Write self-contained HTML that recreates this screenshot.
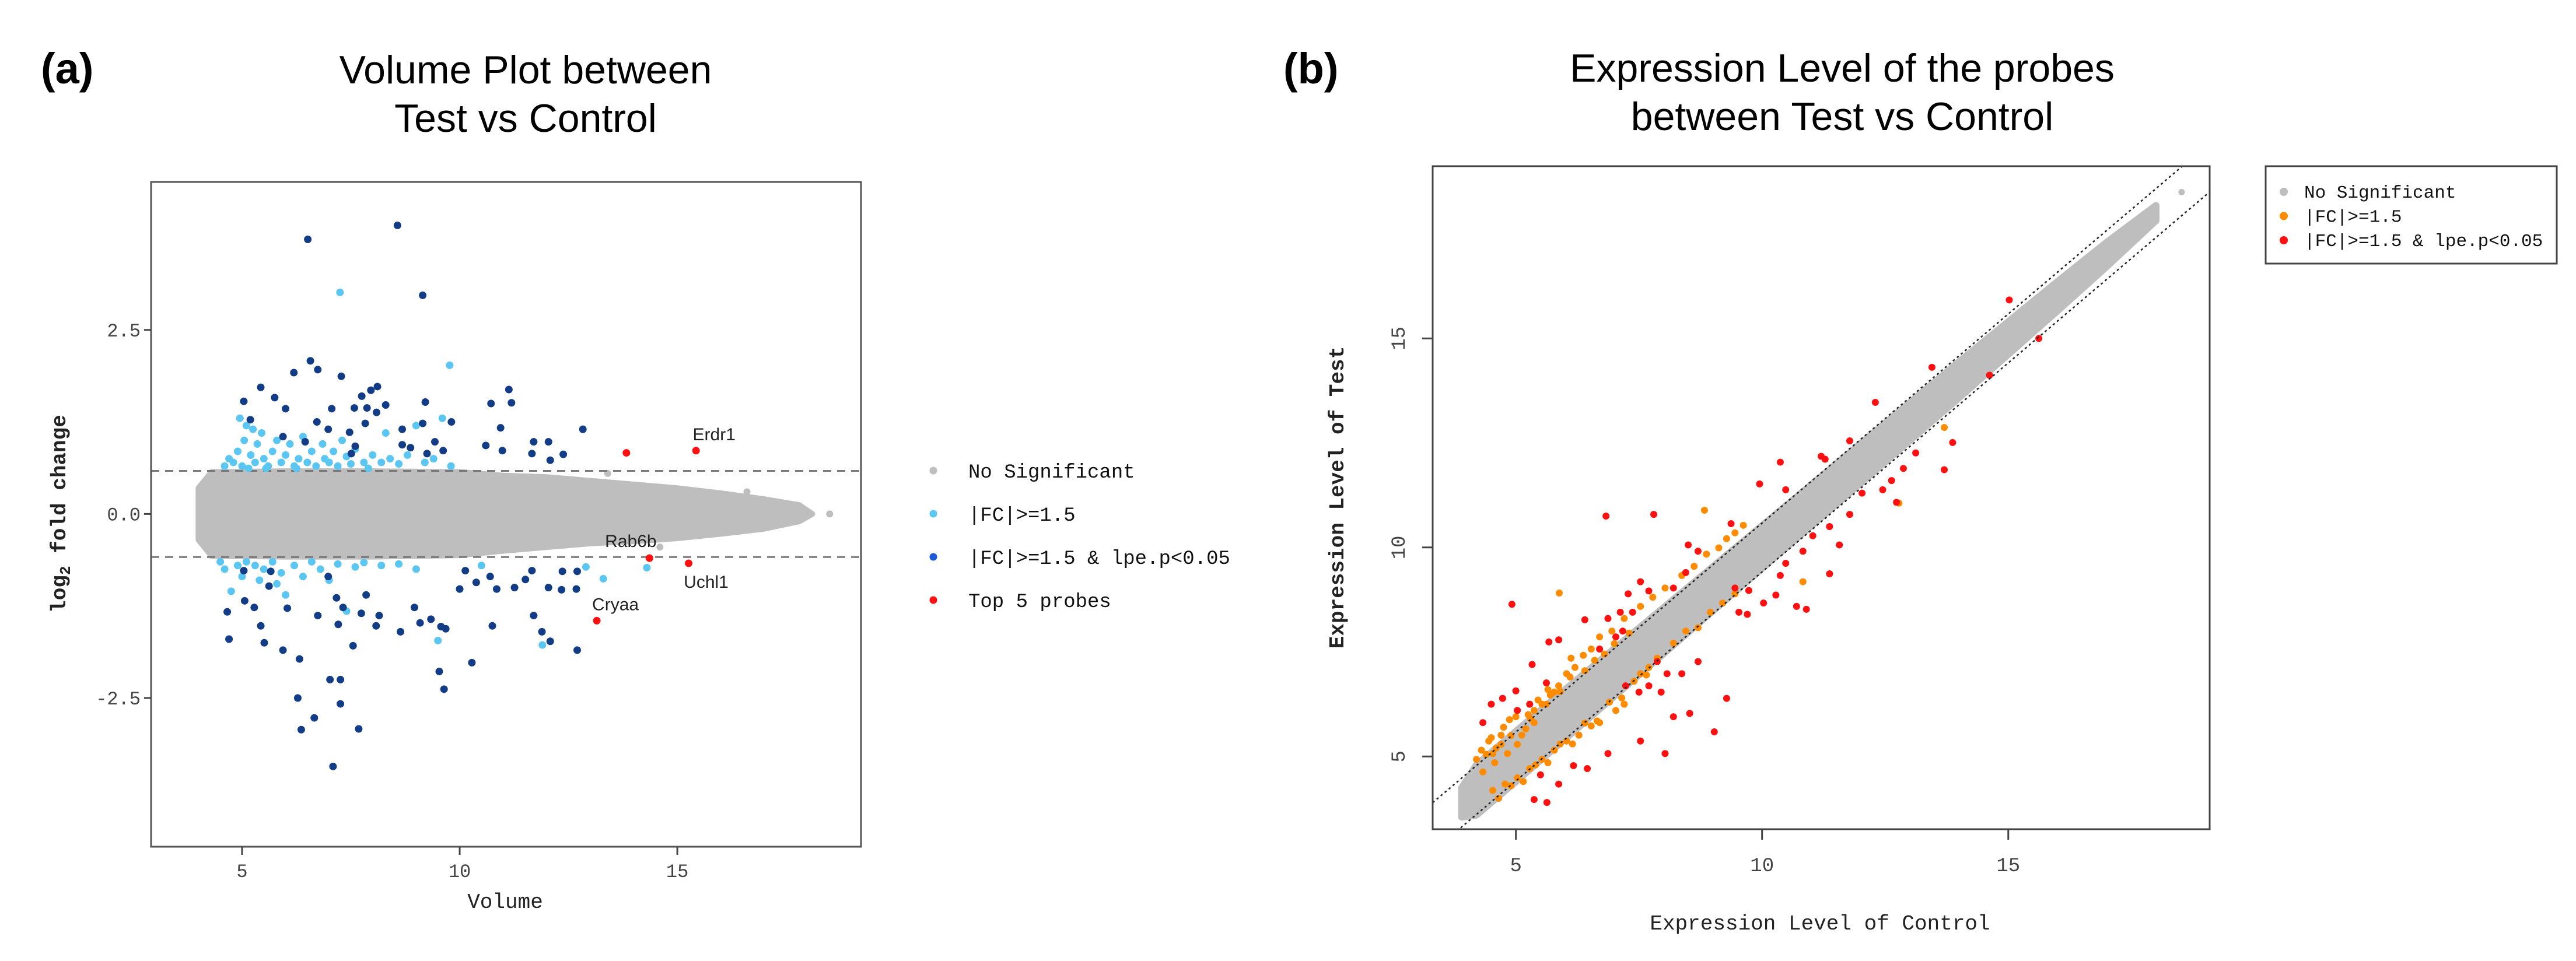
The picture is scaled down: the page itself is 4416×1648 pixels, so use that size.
<!DOCTYPE html>
<html><head><meta charset="utf-8"><style>
html,body{margin:0;padding:0;background:#fff;}
svg{display:block;}
</style></head><body>
<svg id="fig" xmlns="http://www.w3.org/2000/svg" width="4416" height="1648" viewBox="0 0 4416 1648">
<rect x="0" y="0" width="4416" height="1648" fill="#fff"/>
<!-- Panel a -->
<text x="70" y="143" font-family="Liberation Sans, sans-serif" font-size="74" font-weight="bold">(a)</text>
<text x="901" y="143" text-anchor="middle" font-family="Liberation Sans, sans-serif" font-size="68">Volume Plot between</text>
<text x="901" y="226" text-anchor="middle" font-family="Liberation Sans, sans-serif" font-size="68">Test vs Control</text>
<g id="plotA"></g>
<text x="866" y="1557" text-anchor="middle" font-family="Liberation Mono, monospace" font-size="36" fill="#222">Volume</text>
<text transform="translate(112,881) rotate(-90)" text-anchor="middle" font-family="Liberation Mono, monospace" font-size="36" font-weight="bold" fill="#222">log<tspan font-size="26" dy="8">2</tspan><tspan dy="-8"> fold change</tspan></text>
<g id="legendA"></g>
<!-- Panel b -->
<text x="2200" y="143" font-family="Liberation Sans, sans-serif" font-size="74" font-weight="bold">(b)</text>
<text x="3158" y="140" text-anchor="middle" font-family="Liberation Sans, sans-serif" font-size="68">Expression Level of the probes</text>
<text x="3158" y="223" text-anchor="middle" font-family="Liberation Sans, sans-serif" font-size="68">between Test vs Control</text>
<g id="plotB"></g>
<text x="3120" y="1594" text-anchor="middle" font-family="Liberation Mono, monospace" font-size="36" fill="#222">Expression Level of Control</text>
<text transform="translate(2303,853) rotate(-90)" text-anchor="middle" font-family="Liberation Mono, monospace" font-size="36" font-weight="bold" fill="#222">Expression Level of Test</text>
<g id="legendB"></g>
</svg>
<script>
// ===== Panel A data (Volume plot) =====
const aXTicks = [5, 10, 15];
const aYTicks = [2.5, 0.0, -2.5];
const aYTickLabels = ["2.5", "0.0", "-2.5"];
const aThreshold = [0.585, -0.585];
const aEnvX  = [4.0, 4.3, 6, 8, 10, 11, 12, 13, 14, 15, 16, 17, 17.8, 18.1];
const aEnvUp = [0.35, 0.57, 0.58, 0.58, 0.57, 0.52, 0.5, 0.45, 0.4, 0.35, 0.28, 0.2, 0.12, 0];
const aEnvLo = [-0.35, -0.57, -0.58, -0.58, -0.56, -0.5, -0.45, -0.4, -0.37, -0.33, -0.27, -0.2, -0.1, 0];
const aGrayOutliers = [[18.5, 0.0], [16.6, 0.3], [13.4, 0.55], [14.6, -0.45]];
const aDarkBlue = [[6.51,3.73],[8.57,3.92],[9.15,2.97],[6.57,2.08],[6.74,1.96],[6.19,1.92],[7.28,1.87],[5.43,1.72],[5.04,1.53],[5.75,1.58],[6.0,1.43],[6.72,1.25],[7.06,1.43],[7.58,1.44],[7.75,1.6],[7.96,1.68],[8.11,1.73],[7.87,1.44],[8.09,1.38],[8.3,1.48],[6.98,1.15],[7.47,1.11],[7.83,1.23],[8.68,1.15],[8.87,0.9],[9.25,0.82],[9.62,0.86],[9.15,1.23],[9.81,1.25],[9.21,1.52],[10.72,1.5],[11.13,1.69],[11.19,1.51],[10.94,1.17],[10.6,0.93],[10.98,0.86],[11.7,0.98],[12.04,0.98],[12.38,0.81],[12.83,1.15],[11.66,0.82],[12.08,0.73],[7.51,0.82],[6.45,0.98],[5.94,1.05],[7.6,0.92],[5.19,1.28],[8.68,0.94],[9.43,0.98],
[4.66,-1.33],[4.7,-1.7],[5.06,-1.18],[5.04,-0.77],[5.28,-1.27],[5.43,-1.52],[5.51,-1.75],[5.62,-0.98],[5.66,-0.78],[6.04,-1.28],[5.94,-1.85],[6.32,-1.97],[6.28,-2.5],[6.36,-2.93],[6.66,-2.77],[6.74,-1.38],[7.02,-2.25],[7.26,-2.25],[7.26,-2.58],[7.09,-3.43],[7.68,-2.92],[6.98,-0.85],[7.17,-1.14],[7.21,-1.5],[7.32,-1.27],[7.55,-1.79],[7.74,-1.35],[7.85,-1.1],[8.08,-1.52],[8.15,-1.38],[8.64,-1.6],[8.96,-1.27],[9.09,-1.48],[9.34,-1.43],[9.57,-1.53],[9.68,-1.56],[9.53,-2.14],[9.64,-2.38],[10.28,-2.02],[10.0,-1.02],[10.13,-0.77],[10.38,-0.93],[10.85,-1.02],[10.75,-1.52],[11.26,-1.0],[11.7,-1.38],[11.89,-1.6],[12.08,-1.73],[12.04,-1.0],[12.34,-1.03],[12.7,-1.85],[12.68,-1.02],[11.66,-0.77],[12.36,-0.78],[11.51,-0.89],[12.7,-0.78],[10.7,-0.85]];
const aLightBlue = [[7.25,3.01],[9.77,2.02],[4.6,0.65],[4.7,0.75],[4.8,0.7],[4.9,0.85],[5.0,0.65],[5.05,1.0],[5.1,1.2],[5.2,0.8],[5.3,0.7],[5.35,0.95],[5.45,1.1],[5.5,0.75],[5.6,0.65],[5.7,0.85],[5.8,1.0],[5.9,0.7],[6.0,0.8],[6.1,0.95],[6.2,0.65],[6.3,0.75],[6.4,1.05],[6.5,0.7],[6.6,0.85],[6.7,0.65],[6.85,0.95],[6.9,0.75],[7.0,0.7],[7.1,0.85],[7.2,0.65],[7.3,1.0],[7.4,0.78],[7.5,0.68],[7.6,0.88],[7.8,0.7],[7.9,0.62],[8.0,0.8],[8.2,0.7],[8.3,1.1],[8.4,0.75],[8.6,0.68],[8.8,0.8],[9.0,1.2],[9.2,0.7],[9.4,0.75],[9.6,1.3],[9.8,0.65],[5.15,0.62],[5.55,0.62],[6.25,0.62],[4.95,1.3],[5.25,1.15],
[4.5,-0.65],[4.6,-0.75],[4.75,-1.05],[4.9,-0.7],[5.0,-0.85],[5.1,-0.65],[5.3,-0.7],[5.4,-0.9],[5.5,-0.75],[5.7,-0.65],[5.8,-0.95],[5.9,-0.8],[6.0,-1.1],[6.2,-0.7],[6.4,-0.85],[6.6,-0.65],[6.8,-0.75],[7.0,-0.9],[7.2,-0.68],[7.4,-1.32],[7.6,-0.72],[7.8,-0.66],[8.2,-0.7],[8.6,-0.68],[9.0,-0.75],[9.5,-1.72],[10.5,-0.7],[11.9,-1.78],[13.3,-0.88],[12.9,-0.72],[14.3,-0.73]];
const aTopNames = ["", "Erdr1", "Rab6b", "Uchl1", "Cryaa"];
const aTopX = [13.83, 15.43, 14.36, 15.26, 13.15];
const aTopY = [0.83, 0.86, -0.60, -0.67, -1.45];

// ===== Panel B data (Expression scatter) =====
const bXTicks = [5, 10, 15];
const bYTicks = [5, 10, 15];
const bFoldLines = [0.585, -0.585];
const bBandX  = [3.9, 4.2, 5, 6, 7, 8, 9, 10, 11, 12, 13, 14, 15, 16, 17, 18];
const bBandUp = [0.35, 0.6, 0.6, 0.6, 0.58, 0.56, 0.54, 0.52, 0.5, 0.48, 0.46, 0.44, 0.4, 0.36, 0.3, 0.18];
const bBandLo = [-0.35, -0.6, -0.6, -0.58, -0.56, -0.54, -0.52, -0.5, -0.48, -0.46, -0.44, -0.42, -0.38, -0.34, -0.28, -0.18];
const bGrayOutliers = [[18.52, 18.5]];
const bOrange = [[4.33,4.63],[4.2,4.93],[4.53,5.07],[4.7,5.51],[4.87,5.88],[4.45,5.37],[5.03,5.29],[5.2,5.66],[5.37,6.1],[5.53,6.25],[5.7,6.47],[5.87,6.69],[6.03,6.98],[6.12,7.35],[6.37,7.42],[6.53,7.57],[6.7,7.86],[6.95,8.0],[7.2,8.3],[7.53,8.59],[7.78,8.81],[8.03,9.03],[8.37,9.33],[8.62,9.55],[8.87,9.84],[9.12,9.99],[9.28,10.21],[9.45,10.35],[9.62,10.53],[8.83,10.89],[5.88,8.91],[4.7,5.29],[4.83,5.07],[4.57,4.85],[5.12,5.51],[5.37,5.81],[5.62,6.25],[5.78,6.54],[6.2,7.13],[4.4,5.05],[4.6,5.2],[4.9,5.5],[5.3,5.9],[5.9,6.55],[6.4,7.05],[6.8,7.45],[7.3,7.95],[4.3,5.15],[4.5,5.45],[4.75,5.7],[5.0,5.95],[5.25,6.0],[5.45,6.35],[5.65,6.6],[6.1,6.9],[6.6,7.3],[7.0,7.7],
[4.53,4.19],[4.78,4.34],[5.03,4.49],[5.28,4.71],[5.53,4.93],[5.78,5.15],[6.03,5.37],[6.28,5.51],[6.53,5.73],[6.7,5.81],[7.03,6.1],[7.2,6.25],[7.53,6.98],[7.7,7.13],[7.87,7.35],[8.2,7.71],[8.45,8.0],[8.7,8.08],[8.95,8.45],[9.2,8.67],[9.45,8.89],[10.83,9.18],[12.78,11.06],[13.7,12.87],[4.9,4.3],[5.4,4.8],[5.9,5.3],[6.4,5.8],[6.9,6.3],[7.4,6.8],[4.65,4.0],[5.15,4.4],[5.65,4.85],[6.15,5.3],[6.65,5.85],[7.15,6.4],[7.65,6.95]];
const bRed = [[15.02,15.92],[15.62,15.0],[13.45,14.31],[14.62,14.12],[12.3,13.47],[11.2,12.18],[11.28,12.11],[11.78,12.55],[10.37,12.04],[9.95,11.52],[10.48,11.38],[13.12,12.26],[13.7,11.86],[13.87,12.51],[12.87,11.89],[12.63,11.6],[12.73,11.08],[12.03,11.3],[12.45,11.38],[11.78,10.79],[11.37,10.5],[11.57,10.06],[11.03,10.28],[10.83,9.91],[11.37,9.37],[10.48,9.62],[10.37,9.33],[10.28,8.86],[10.7,8.59],[10.9,8.52],[9.53,8.45],[9.7,8.4],[9.37,10.57],[9.45,9.03],[9.73,8.97],[10.03,8.67],[8.5,10.06],[8.7,9.91],[8.45,9.4],[8.2,9.03],[7.7,8.96],[7.53,9.18],[7.28,8.89],[7.12,8.45],[7.37,8.45],[7.17,8.0],[6.87,8.3],[7.03,7.86],[6.4,8.27],[6.7,7.57],[6.83,10.75],[7.8,10.79],[4.92,8.64],[5.33,7.2],[5.67,7.74],[5.87,7.79],[5.62,6.76],[5.28,6.25],[5.0,6.57],[4.73,6.39],[5.03,6.1],[7.7,6.69],[7.95,6.54],[8.07,6.98],[8.37,6.98],[8.2,5.95],[8.53,6.03],[9.03,5.59],[9.28,6.39],[8.7,7.27],[7.53,5.37],[8.03,5.07],[6.87,5.07],[6.45,4.71],[6.17,4.78],[5.37,3.97],[5.63,3.9],[5.87,4.34],[5.5,4.56],[4.33,5.81],[4.5,6.25],[7.87,7.27],[7.23,6.69],[7.5,6.54]];

const NS = "http://www.w3.org/2000/svg";
function mk(parent, tag, attrs, text) {
  const e = document.createElementNS(NS, tag);
  for (const k in attrs) e.setAttribute(k, attrs[k]);
  if (text !== undefined) e.textContent = text;
  parent.appendChild(e);
  return e;
}

// ---------- Panel A ----------
const A = {x0: 259, x1: 1476, y0: 312, y1: 1452, xmin: 2.91, xmax: 19.22, ymin: -4.52, ymax: 4.51};
const ax = v => A.x0 + (v - A.xmin) / (A.xmax - A.xmin) * (A.x1 - A.x0);
const ay = v => A.y1 - (v - A.ymin) / (A.ymax - A.ymin) * (A.y1 - A.y0);
const gA = document.getElementById('plotA');

let d = "";
aEnvX.forEach((x, i) => { d += (i ? "L" : "M") + ax(x) + "," + ay(aEnvUp[i]); });
for (let i = aEnvX.length - 1; i >= 0; i--) d += "L" + ax(aEnvX[i]) + "," + ay(aEnvLo[i]);
d += "Z";
const envA = mk(gA, "path", {d: d, fill: "#bebebe", stroke: "#bebebe", "stroke-width": 10, "stroke-linejoin": "round"});


aGrayOutliers.forEach(p => {
  const c = mk(gA, "circle", {cx: ax(p[0]), cy: ay(p[1]), r: 6, fill: "#bebebe"});
  
  
});
aThreshold.forEach(t => {
  const l = mk(gA, "line", {x1: A.x0, x2: A.x1, y1: ay(t), y2: ay(t), stroke: "#777", "stroke-width": 3, "stroke-dasharray": "14,10"});
  
  
});
aLightBlue.forEach(p => {
  const c = mk(gA, "circle", {cx: ax(p[0]), cy: ay(p[1]), r: 6.5, fill: "#5bc6f2"});
  
  
});
aDarkBlue.forEach(p => {
  const c = mk(gA, "circle", {cx: ax(p[0]), cy: ay(p[1]), r: 6.5, fill: "#123c86"});
  
  
});
const labelOff = [[0,0],[31,-28],[-32,-29],[30,32],[32,-28]];
aTopX.forEach((x, i) => {
  const c = mk(gA, "circle", {cx: ax(x), cy: ay(aTopY[i]), r: 6.5, fill: "#ff1010"});
  
  
  if (aTopNames[i]) {
    const t = mk(gA, "text", {x: ax(x) + labelOff[i][0], y: ay(aTopY[i]) + labelOff[i][1] + 10, "text-anchor": "middle", "font-family": "Liberation Sans, sans-serif", "font-size": 30, fill: "#222"}, aTopNames[i]);
    
    
  }
});
const frameA = mk(gA, "rect", {x: A.x0, y: A.y0, width: A.x1 - A.x0, height: A.y1 - A.y0, fill: "none", stroke: "#555", "stroke-width": 3});


aXTicks.forEach(v => {
  const l = mk(gA, "line", {x1: ax(v), x2: ax(v), y1: A.y1, y2: A.y1 + 14, stroke: "#444", "stroke-width": 3});
  
  
  const t = mk(gA, "text", {x: ax(v), y: A.y1 + 52, "text-anchor": "middle", "font-family": "Liberation Mono, monospace", "font-size": 32, fill: "#444"}, String(v));
  
  
});
aYTicks.forEach((v, i) => {
  const l = mk(gA, "line", {x1: A.x0 - 12, x2: A.x0, y1: ay(v), y2: ay(v), stroke: "#444", "stroke-width": 3});
  
  
  const t = mk(gA, "text", {x: A.x0 - 18, y: ay(v) + 11, "text-anchor": "end", "font-family": "Liberation Mono, monospace", "font-size": 32, fill: "#444"}, aYTickLabels[i]);
  
  
});

// Legend A
const legA = document.getElementById('legendA');
const legAItems = [["No Significant", "#bebebe"], ["|FC|>=1.5", "#5bc6f2"], ["|FC|>=1.5 & lpe.p<0.05", "#1a5ad8"], ["Top 5 probes", "#ff1010"]];
legAItems.forEach((it, i) => {
  const y = 807 + i * 74;
  const c = mk(legA, "circle", {cx: 1600, cy: y, r: 6.5, fill: it[1]});
  
  
  const t = mk(legA, "text", {x: 1660, y: y + 12, "font-family": "Liberation Mono, monospace", "font-size": 34, fill: "#111"}, it[0]);
  
  
});

// ---------- Panel B ----------
const B = {x0: 2456, x1: 3788, y0: 285, y1: 1422, xmin: 3.31, xmax: 19.09, ymin: 3.26, ymax: 19.12};
const bx = v => B.x0 + (v - B.xmin) / (B.xmax - B.xmin) * (B.x1 - B.x0);
const by = v => B.y1 - (v - B.ymin) / (B.ymax - B.ymin) * (B.y1 - B.y0);
const gB = document.getElementById('plotB');
mk(gB, "clipPath", {id: "clipB"});
mk(document.getElementById('clipB'), "rect", {x: B.x0, y: B.y0, width: B.x1 - B.x0, height: B.y1 - B.y0});

let dB = "";
bBandX.forEach((x, i) => { dB += (i ? "L" : "M") + bx(x) + "," + by(x + bBandUp[i]); });
for (let i = bBandX.length - 1; i >= 0; i--) dB += "L" + bx(bBandX[i]) + "," + by(bBandX[i] + bBandLo[i]);
dB += "Z";
const bandB = mk(gB, "path", {d: dB, fill: "#bebebe", stroke: "#bebebe", "stroke-width": 12, "stroke-linejoin": "round"});


bGrayOutliers.forEach(p => {
  const c = mk(gB, "circle", {cx: bx(p[0]), cy: by(p[1]), r: 5.5, fill: "#bebebe"});
  
  
});
bOrange.forEach(p => {
  const c = mk(gB, "circle", {cx: bx(p[0]), cy: by(p[1]), r: 6, fill: "#ff8c00"});
  
  
});
bRed.forEach(p => {
  const c = mk(gB, "circle", {cx: bx(p[0]), cy: by(p[1]), r: 6, fill: "#ff1010"});
  
  
});
bFoldLines.forEach(o => {
  const l = mk(gB, "line", {x1: bx(B.xmin), y1: by(B.xmin + o), x2: bx(B.xmax), y2: by(B.xmax + o), stroke: "#222", "stroke-width": 2.5, "stroke-dasharray": "4,5", "clip-path": "url(#clipB)"});
  
  
});
const frameB = mk(gB, "rect", {x: B.x0, y: B.y0, width: B.x1 - B.x0, height: B.y1 - B.y0, fill: "none", stroke: "#444", "stroke-width": 3});


bXTicks.forEach(v => {
  const l = mk(gB, "line", {x1: bx(v), x2: bx(v), y1: B.y1, y2: B.y1 + 18, stroke: "#444", "stroke-width": 3});
  
  
  const t = mk(gB, "text", {x: bx(v), y: B.y1 + 72, "text-anchor": "middle", "font-family": "Liberation Mono, monospace", "font-size": 34, fill: "#444"}, String(v));
  
  
});
bYTicks.forEach(v => {
  const l = mk(gB, "line", {x1: B.x0 - 18, x2: B.x0, y1: by(v), y2: by(v), stroke: "#444", "stroke-width": 3});
  
  
  const t = mk(gB, "text", {transform: "translate(" + (B.x0 - 48) + "," + by(v) + ") rotate(-90)", "text-anchor": "middle", "font-family": "Liberation Mono, monospace", "font-size": 34, fill: "#444"}, String(v));
  
  
});

// Legend B
const legB = document.getElementById('legendB');
const box = mk(legB, "rect", {x: 3884, y: 285, width: 499, height: 167, fill: "#fff", stroke: "#444", "stroke-width": 3});


const legBItems = [["No Significant", "#bebebe"], ["|FC|>=1.5", "#ff8c00"], ["|FC|>=1.5 & lpe.p<0.05", "#ff1010"]];
legBItems.forEach((it, i) => {
  const y = 329 + i * 41.5;
  const c = mk(legB, "circle", {cx: 3915, cy: y, r: 7, fill: it[1]});
  
  
  const t = mk(legB, "text", {x: 3950, y: y + 10, "font-family": "Liberation Mono, monospace", "font-size": 31, fill: "#111"}, it[0]);
  
  
});
</script>
</body></html>
